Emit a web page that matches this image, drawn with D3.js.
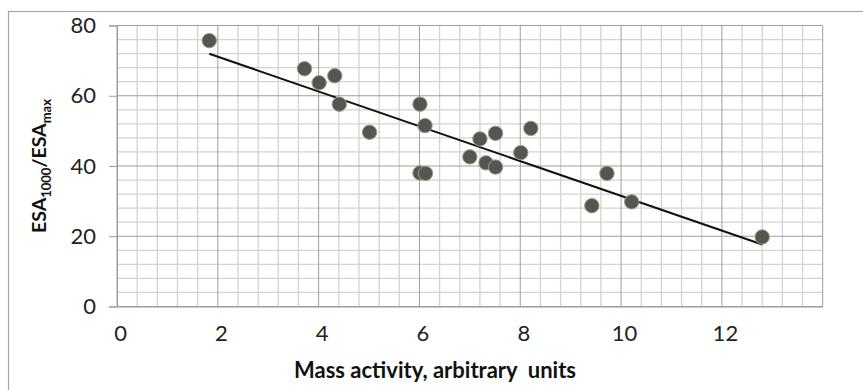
<!DOCTYPE html>
<html>
<head>
<meta charset="utf-8">
<script src="https://cdn.jsdelivr.net/npm/d3@7"></script>
<style>
  html, body { margin: 0; padding: 0; background: #fff; }
  svg { display: block; }
  text { font-family: Lato, "Open Sans", sans-serif; }
</style>
</head>
<body>
<svg id="chart" width="863" height="390"></svg>
<script>
// Mass activity (x) vs ESA1000/ESAmax (y) for each sample
const massActivity = [1.83, 3.72, 4.01, 4.32, 4.41, 5.01, 6.01, 6.11, 6.01, 6.12, 7.00,
                      7.20, 7.32, 7.51, 7.51, 8.01, 8.21, 9.72, 9.42, 10.21, 12.80];
const esaRatio     = [75.7, 67.7, 63.7, 65.7, 57.6, 49.6, 57.6, 51.5, 38.0, 37.9, 42.6,
                      47.7, 40.9, 49.3, 39.7, 43.8, 50.7, 37.9, 28.7, 29.8, 19.8];

const xTicks = [0, 2, 4, 6, 8, 10, 12];
const yTicks = [0, 20, 40, 60, 80];
const xDomain = [0, 14];
const yDomain = [0, 80];

const svg = d3.select("#chart");
const plot = { left: 117, right: 822.7, top: 25.5, bottom: 306.5 };

const x = d3.scaleLinear().domain(xDomain).range([plot.left, plot.right]);
const y = d3.scaleLinear().domain(yDomain).range([plot.bottom, plot.top]);

// outer chart frame
svg.append("rect")
  .attr("x", 8.5).attr("y", 11.5)
  .attr("width", 900).attr("height", 420)
  .attr("fill", "none").attr("stroke", "#a6a6a6").attr("stroke-width", 1.2);

// minor gridlines: x every 0.4, y every 4
const xMinor = d3.range(xDomain[0], xDomain[1] + 1e-9, 0.4).filter(v => Math.abs(v / 2 - Math.round(v / 2)) > 1e-6);
const yMinor = d3.range(yDomain[0], yDomain[1] + 1e-9, 4).filter(v => v % 20 !== 0);

const grid = svg.append("g");
grid.selectAll(".vminor").data(xMinor).join("line")
  .attr("x1", d => x(d)).attr("x2", d => x(d))
  .attr("y1", plot.top).attr("y2", plot.bottom)
  .attr("stroke", "#d2d2d2").attr("stroke-width", 1.3);
grid.selectAll(".hminor").data(yMinor).join("line")
  .attr("x1", plot.left).attr("x2", plot.right)
  .attr("y1", d => y(d)).attr("y2", d => y(d))
  .attr("stroke", "#d2d2d2").attr("stroke-width", 1.3);

// major gridlines
const xMajor = d3.range(xDomain[0], xDomain[1] + 1e-9, 2);
grid.selectAll(".vmajor").data(xMajor).join("line")
  .attr("x1", d => x(d)).attr("x2", d => x(d))
  .attr("y1", plot.top).attr("y2", plot.bottom)
  .attr("stroke", "#9e9e9e").attr("stroke-width", 1);
grid.selectAll(".hmajor").data(yTicks).join("line")
  .attr("x1", plot.left).attr("x2", plot.right)
  .attr("y1", d => y(d)).attr("y2", d => y(d))
  .attr("stroke", "#9e9e9e").attr("stroke-width", 1);

// y axis with outward ticks
const yAxis = svg.append("g")
  .attr("transform", `translate(${plot.left},0)`)
  .call(d3.axisLeft(y).tickValues(yTicks).tickSize(8).tickPadding(13).tickFormat(d3.format("d")));
yAxis.select(".domain").attr("stroke", "#9a9a9a");
yAxis.selectAll(".tick line").attr("stroke", "#9a9a9a");
yAxis.selectAll(".tick text")
  .attr("font-size", 22).attr("fill", "#222")
  .style("font-family", "Lato, sans-serif");

// x axis (labels only below the gridded area)
const xAxis = svg.append("g")
  .attr("transform", `translate(0,${plot.bottom})`)
  .call(d3.axisBottom(x).tickValues(xTicks).tickSize(0).tickPadding(19).tickFormat(d3.format("d")));
xAxis.select(".domain").attr("stroke", "#9a9a9a");
xAxis.selectAll(".tick text")
  .attr("font-size", 22).attr("fill", "#222").attr("dx", 3)
  .style("font-family", "Lato, sans-serif");

// least-squares trendline spanning the data range
const mx = d3.mean(massActivity), my = d3.mean(esaRatio);
let sxy = 0, sxx = 0;
massActivity.forEach((v, i) => { sxy += (v - mx) * (esaRatio[i] - my); sxx += (v - mx) * (v - mx); });
const slope = sxy / sxx, intercept = my - slope * mx;
const [xmin, xmax] = d3.extent(massActivity);
svg.append("line")
  .attr("x1", x(xmin)).attr("y1", y(intercept + slope * xmin))
  .attr("x2", x(xmax)).attr("y2", y(intercept + slope * xmax))
  .attr("stroke", "#111").attr("stroke-width", 2);

// data points
svg.append("g").selectAll("circle")
  .data(massActivity.map((v, i) => [v, esaRatio[i]]))
  .join("circle")
  .attr("cx", d => x(d[0])).attr("cy", d => y(d[1]))
  .attr("r", 7.2)
  .attr("fill", "#545654")
  .attr("stroke", "#9c9f78").attr("stroke-width", 1);

// axis titles
svg.append("text")
  .attr("x", 435).attr("y", 378)
  .attr("text-anchor", "middle")
  .attr("font-size", 22).attr("font-weight", "bold").attr("fill", "#111")
  .style("white-space", "pre")
  .text("Mass activity, arbitrary  units");

const yt = svg.append("text")
  .attr("transform", "translate(46,166) rotate(-90)")
  .attr("text-anchor", "middle")
  .attr("font-size", 19.5).attr("font-weight", "bold").attr("fill", "#111");
yt.append("tspan").text("ESA");
yt.append("tspan").attr("font-size", 13).attr("dy", 5).text("1000");
yt.append("tspan").attr("dy", -5).text("/ESA");
yt.append("tspan").attr("font-size", 13).attr("dy", 5).text("max");
</script>
</body>
</html>
